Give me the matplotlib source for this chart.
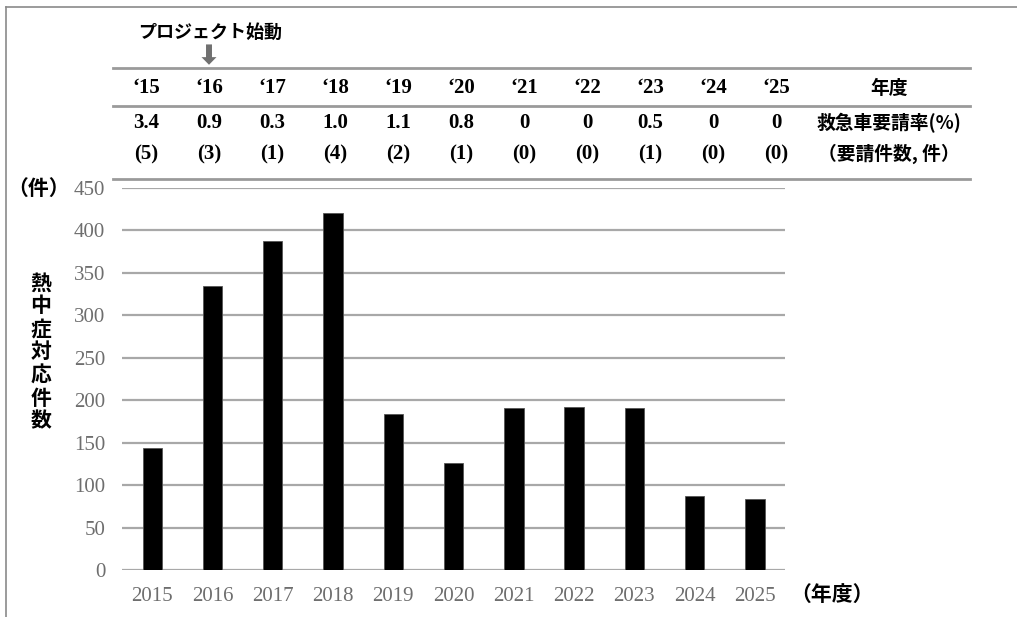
import matplotlib
matplotlib.use('Agg')
import matplotlib.pyplot as plt
from matplotlib.transforms import blended_transform_factory

JP = ['Noto Sans CJK JP', 'DejaVu Sans']
NUM = ['Liberation Serif', 'DejaVu Serif']

years = [2015, 2016, 2017, 2018, 2019, 2020, 2021, 2022, 2023, 2024, 2025]
cases = [144, 334, 387, 420, 184, 126, 191, 192, 191, 87, 84]
year_short = ['\u201815', '\u201816', '\u201817', '\u201818', '\u201819', '\u201820',
              '\u201821', '\u201822', '\u201823', '\u201824', '\u201825']
rate_labels = ['3.4', '0.9', '0.3', '1.0', '1.1', '0.8', '0', '0', '0.5', '0', '0']
requests = [5, 3, 1, 4, 2, 1, 0, 0, 1, 0, 0]
row_titles = ['年度', '救急車要請率(%)', '（要請件数, 件）']
yticks = [0, 50, 100, 150, 200, 250, 300, 350, 400, 450]

fig = plt.figure(figsize=(10.17, 6.17), dpi=100)
ax = fig.add_axes([0.12, 0.0757, 0.652, 0.62])

x = list(range(len(years)))
ax.bar(x, cases, width=0.32, color='black', edgecolor='#555555', linewidth=0.6, zorder=3)

ax.set_xlim(-0.5, len(years) - 0.5)
ax.set_ylim(0, 450)
ax.set_yticks(yticks)
ax.set_yticklabels([str(v) for v in yticks], fontfamily=NUM, fontsize=15, color='#6e6e6e')
ax.set_xticks(x)
ax.set_xticklabels([str(y) for y in years], fontfamily=NUM, fontsize=15, color='#6e6e6e')
ax.tick_params(axis='both', length=0)
ax.tick_params(axis='y', pad=12)
ax.tick_params(axis='x', pad=12)
for s in ax.spines.values():
    s.set_visible(False)
ax.yaxis.grid(True, color='#a8a8a8', linewidth=1.6, zorder=0)
ax.set_axisbelow(True)

# axis captions
fig.text(0.038, 0.695, '（件）', fontfamily=JP, fontsize=15, fontweight='bold',
         ha='center', va='center')
fig.text(0.777, 0.036, '（年度）', fontfamily=JP, fontsize=15, fontweight='bold',
         ha='left', va='center')
fig.text(0.040, 0.4295, '\n'.join('熱中症対応件数'), fontfamily=JP, fontsize=15,
         fontweight='bold', ha='center', va='center', linespacing=1.12)

# summary table above the chart, in its own column grid
tab = fig.add_axes([114.5 / 1017, 0.70, 63 * 13 / 1017, 0.2])
tab.set_xlim(-0.5, 12.5)
tab.axis('off')
tr = blended_transform_factory(tab.transData, fig.transFigure)

row_y = [0.8569, 0.8002, 0.7504]
for i in x:
    cells = [year_short[i], rate_labels[i], '(%d)' % requests[i]]
    for yy, s in zip(row_y, cells):
        tab.text(i, yy, s, transform=tr, fontfamily=NUM, fontsize=15,
                 fontweight='bold', ha='center', va='center')

title_col = 11.79
for yy, s in zip(row_y, row_titles):
    tab.text(title_col, yy, s, transform=tr, fontfamily=JP, fontsize=13.5,
             fontweight='bold', ha='center', va='center')

for yy in [0.8893, 0.8282, 0.7094]:
    tab.plot([-0.52, 13.08], [yy, yy], transform=tr, color='#9a9a9a',
             linewidth=2.0, clip_on=False)

# project start marker
tab.text(-0.13, 0.948, 'プロジェクト始動', transform=tr, fontfamily=JP, fontsize=13,
         fontweight='bold', ha='left', va='center')
tab.annotate('', xy=(1, 0.895), xytext=(1, 0.928), xycoords=tr, textcoords=tr,
             arrowprops=dict(width=4.3, headwidth=10.8, headlength=5.5, shrink=0,
                             color='#707070', lw=0))

# frame
fig.add_artist(plt.Line2D([0.006, 1.0], [0.989, 0.989], color='#8a8a8a', linewidth=1.2))
fig.add_artist(plt.Line2D([0.006, 0.006], [0.0, 0.989], color='#8a8a8a', linewidth=1.2))

fig.savefig('out.png', dpi=100)
